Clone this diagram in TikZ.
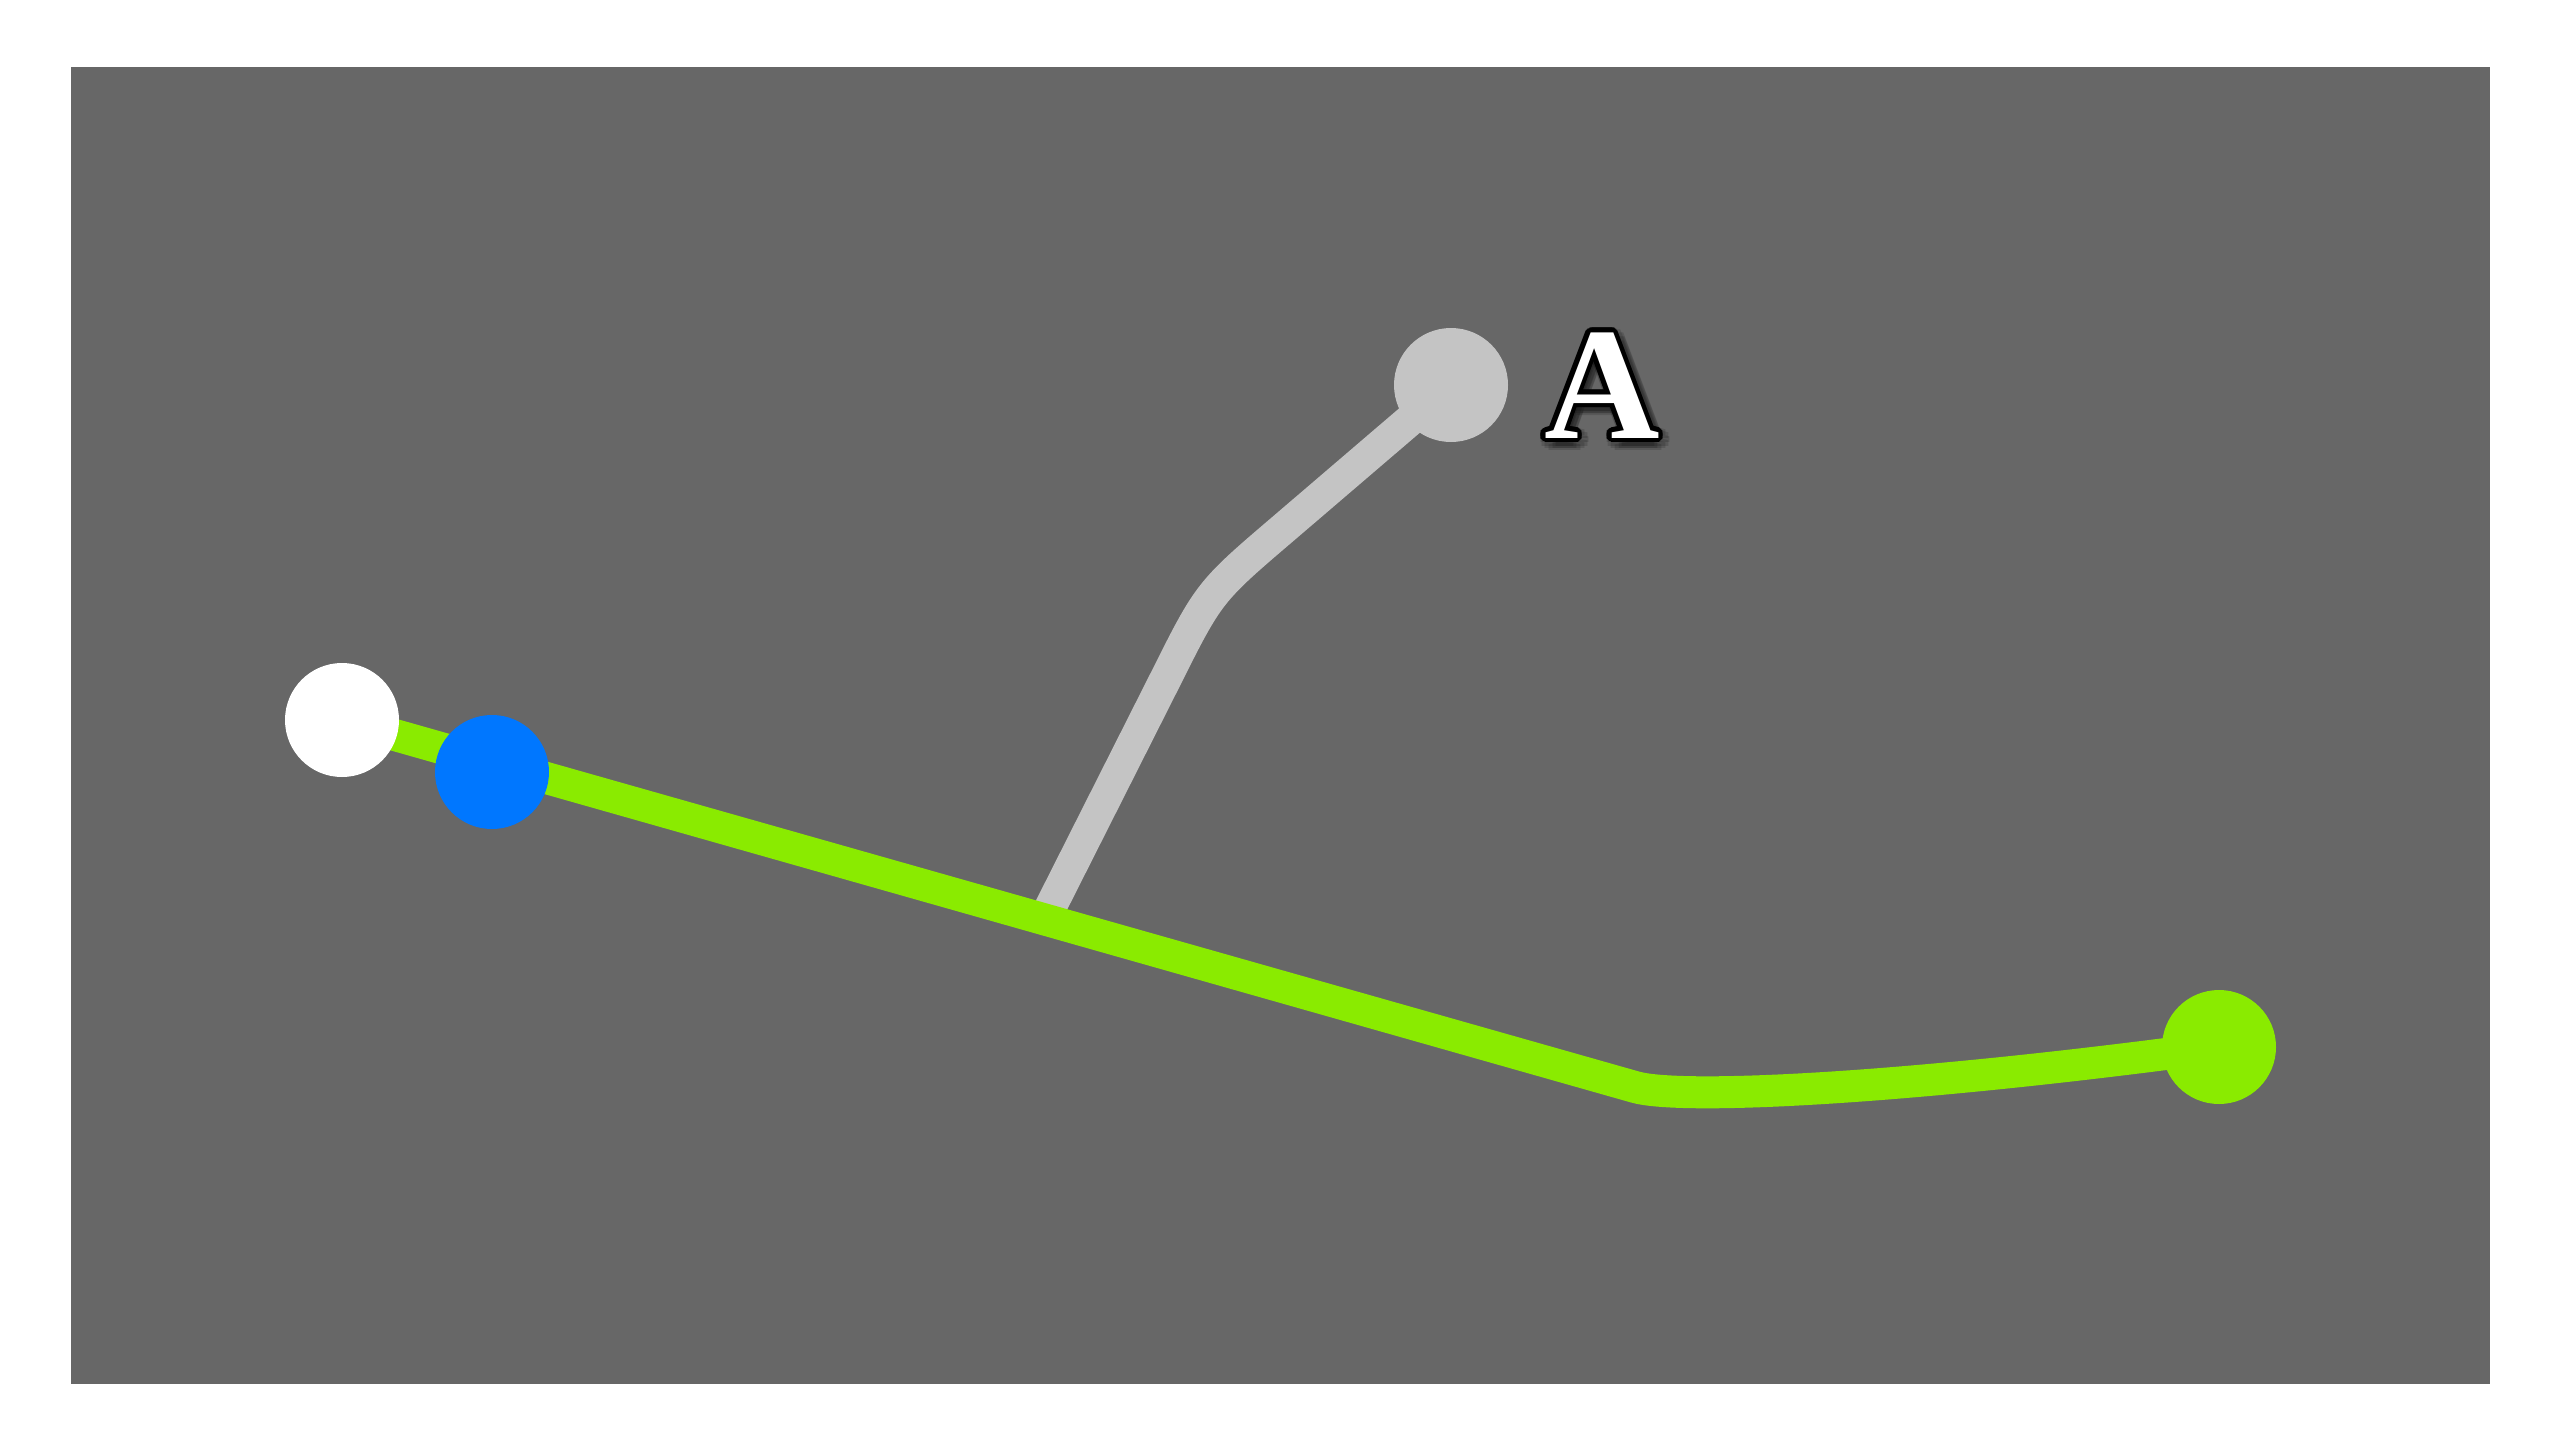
\documentclass[tikz,border=0pt]{standalone}
\usepackage{fontspec}
\newfontfamily\labelfont{Liberation Serif}
\definecolor{panelgray}{RGB}{103,103,103}
\definecolor{pathgreen}{RGB}{138,235,0}
\definecolor{dotblue}{RGB}{0,119,255}
\definecolor{armgray}{RGB}{196,196,196}
\pgfdeclarelayer{panel}
\pgfdeclarelayer{lines}
\pgfsetlayers{panel,lines,main}

\begin{document}
\begin{tikzpicture}[x=0.5pt,y=0.5pt,yscale=-1,
    dot/.style={circle,inner sep=0pt,minimum size=57pt},
    track/.style={line width=16pt},
    letter/.style={inner sep=0pt,anchor=base,font=\labelfont\bfseries\fontsize{80pt}{84pt}\selectfont}]
        \useasboundingbox (0,0) rectangle (2560,1440);
        
        %Shape: Rectangle [id:panel]
        \begin{pgfonlayer}{panel}
        \fill [white] (0,0) rectangle (2560,1440);
        \fill [panelgray] (71,67) rectangle (2490,1384);
        \end{pgfonlayer}
        
        %Shape: Circle [id:dots]
        \node [dot,fill=white] (start) at (342,720) {};
        \node [dot,fill=dotblue] (mark) at (492,772) {};
        \node [dot,fill=armgray] (tip) at (1451,385) {};
        \node [dot,fill=pathgreen] (goal) at (2219,1047) {};
        \coordinate (fork) at (1045,918);
        
        %Curve Lines [id:arm]
        \begin{pgfonlayer}{lines}
        \draw [track,armgray] (fork) -- (1165,680) .. controls (1209,592) .. (1284,528) -- (tip.center);
        %Curve Lines [id:track]
        \draw [track,pathgreen] (start.center) -- (1635,1087) .. controls (1680,1100) and (1900,1090) .. (goal.center);
        \end{pgfonlayer}
        
        % Text Node
        \foreach \a in {0,30,...,330}
            \node [letter,text=black,text opacity=0.14,xshift=1.5pt,yshift=-2pt,shift={(\a:4pt)}] (shade\a) at (1602,438) {A};
        \foreach \a in {0,20,...,340}
            \node [letter,text=black,shift={(\a:2.3pt)}] (rim\a) at (1602,438) {A};
        \node [letter,text=white] (label) at (1602,438) {A};
        
\end{tikzpicture}
\end{document}
